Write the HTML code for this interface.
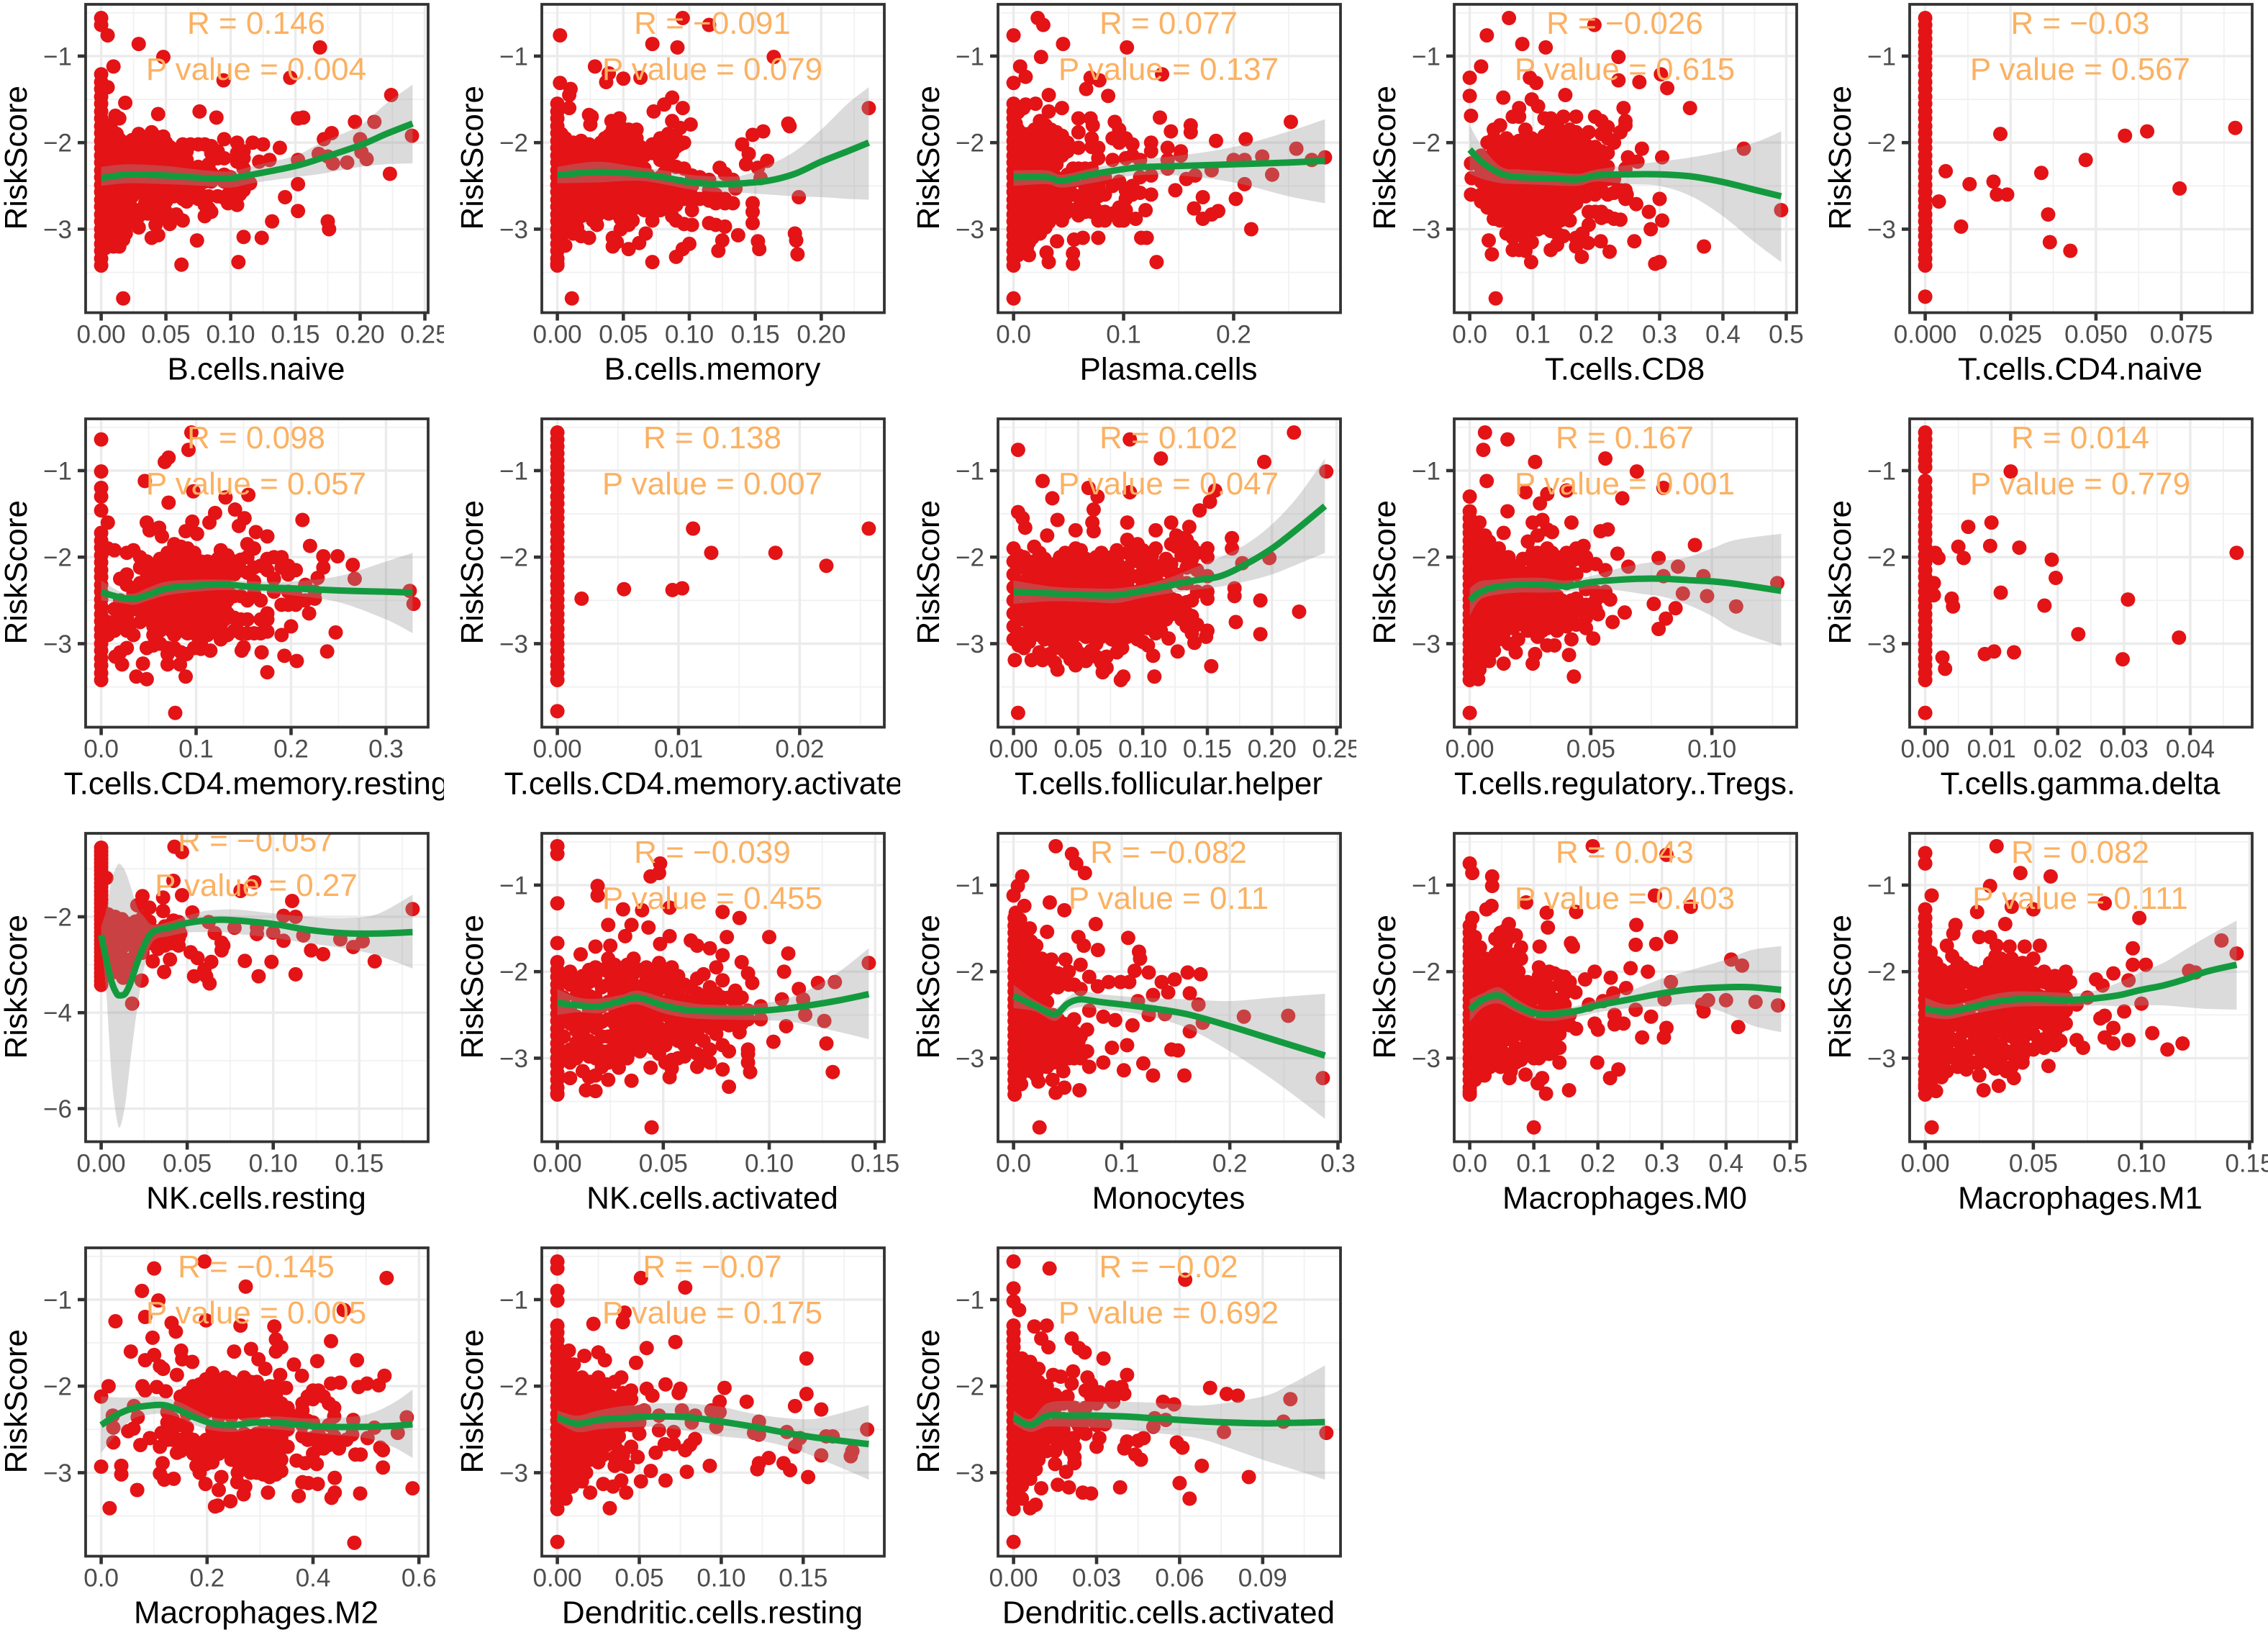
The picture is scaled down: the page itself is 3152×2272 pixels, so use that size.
<!DOCTYPE html>
<html lang="en">
<head>
<meta charset="utf-8">
<title>RiskScore vs immune cell fractions</title>
<style>
html,body{margin:0;padding:0;background:#fff;}
#figure{display:block;width:3152px;height:2272px;background:#fff;font-family:"Liberation Sans",Arial,sans-serif;}
</style>
</head>
<body>
<svg id="figure" xmlns="http://www.w3.org/2000/svg" width="3152" height="2272" viewBox="0 0 3152 2272"></svg>
<script>
const panelTitles=["B.cells.naive","B.cells.memory","Plasma.cells","T.cells.CD8","T.cells.CD4.naive","T.cells.CD4.memory.resting","T.cells.CD4.memory.activated","T.cells.follicular.helper","T.cells.regulatory..Tregs.","T.cells.gamma.delta","NK.cells.resting","NK.cells.activated","Monocytes","Macrophages.M0","Macrophages.M1","Macrophages.M2","Dendritic.cells.resting","Dendritic.cells.activated"];
const rLabels=["0.146","\u22120.091","0.077","\u22120.026","\u22120.03","0.098","0.138","0.102","0.167","0.014","\u22120.057","\u22120.039","\u22120.082","0.043","0.082","\u22120.145","\u22120.07","\u22120.02"];
const pLabels=["0.004","0.079","0.137","0.615","0.567","0.057","0.007","0.047","0.001","0.779","0.27","0.455","0.11","0.403","0.111","0.005","0.175","0.692"];
const xDomainMax=[0.2405,0.236,0.283,0.492,0.0912,0.328,0.0257,0.241,0.1286,0.047,0.181,0.147,0.288,0.486,0.144,0.588,0.19,0.1125];
const xTickLabels=[
["0.00","0.05","0.10","0.15","0.20","0.25"],["0.00","0.05","0.10","0.15","0.20"],["0.0","0.1","0.2"],["0.0","0.1","0.2","0.3","0.4","0.5"],["0.000","0.025","0.050","0.075"],
["0.0","0.1","0.2","0.3"],["0.00","0.01","0.02"],["0.00","0.05","0.10","0.15","0.20","0.25"],["0.00","0.05","0.10"],["0.00","0.01","0.02","0.03","0.04"],
["0.00","0.05","0.10","0.15"],["0.00","0.05","0.10","0.15"],["0.0","0.1","0.2","0.3"],["0.0","0.1","0.2","0.3","0.4","0.5"],["0.00","0.05","0.10","0.15"],
["0.0","0.2","0.4","0.6"],["0.00","0.05","0.10","0.15"],["0.00","0.03","0.06","0.09"]];
const yTicksStandard=[-1,-2,-3];
const yTicksNK=[-2,-4,-6];
const yDomainStandard=[-0.4017,-3.965];
const yDomainNK=[-0.26,-6.69];

const zeroScoresTop=[-.56,-.64,-.72,-.8,-.88,-.96,-1.04];
const zeroScoresCore=[-1.12,-1.21,-1.3,-1.38,-1.47,-1.55,-1.64,-1.72,-1.81,-1.89,-1.98,-2.06,-2.15,-2.23,-2.32,-2.4,-2.49,-2.57,-2.66,-2.74,-2.83,-2.91,-3,-3.08,-3.17,-3.25,-3.34,-3.42];

/* outliers: flat x,y pairs; cloud: [x,[scores]] columns; smooth: [x,fit,lower,upper] */
const outliers1=[0,-.56,0,-.64,.005,-.76,.029,-.86,.048,-1.01,.0095,-1.12,.0945,-1.28,.146,-1.25,.169,-.9,.224,-1.45,.0186,-1.54,.044,-1.67,.076,-1.64,.089,-1.71,.152,-1.72,.156,-1.71,.011,-1.69,.014,-1.72,.196,-1.76,.211,-1.76,.24,-1.92,.178,-1.89,.172,-1.96,.2,-1.96,.168,-2.13,.175,-2.16,.179,-2.24,.19,-2.23,.201,-2.11,.205,-2.19,.223,-2.36,.152,-2.2,.152,-2.48,.142,-2.63,.152,-2.79,.175,-2.91,.176,-3,.132,-2.91,.124,-3.1,.11,-3.09,.106,-3.38,.062,-3.41,.074,-3.13,.017,-3.8,.138,-2.06,.13,-2.2,.122,-2.22,.125,-2.02,.117,-2,.115,-2.47];
const cloud1=[[0,zeroScoresCore.slice(1)],[.005,[-1.36,-1.8,-1.95,-2.1,-2.25,-2.4,-2.55,-2.7,-2.85,-3,-3.15]],[.0095,[-2,-2.13,-2.28,-2.42,-2.56,-2.7,-2.84,-3.02,-3.2]],[.014,[-1.96,-2.2,-2.35,-2.5,-2.64,-2.78,-3.1,-3.2]],[.019,[-2,-2.14,-2.5,-2.62,-2.72,-2.95,-3.05]],[.024,[-1.97,-2.1,-2.3,-2.48,-2.62,-2.82]],[.029,[-1.9,-2.03,-2.18,-2.32,-2.5,-2.85,-2.98]],[.034,[-2,-2.17,-2.45,-2.6,-2.7]],[.039,[-1.88,-1.98,-2.12,-2.25,-2.38,-2.5,-2.65,-2.78,-3.1]],[.044,[-2.1,-2.22,-2.36,-2.48,-2.66,-2.88,-3.07]],[.048,[-1.93,-2.08,-2.2,-2.34,-2.45,-2.6,-2.75]],[.053,[-2.05,-2.15,-2.3,-2.4,-2.57,-2.85,-2.94]],[.058,[-2.1,-2.2,-2.3,-2.45,-2.83]],[.063,[-2.02,-2.14,-2.25,-2.38,-2.55,-2.65,-2.9]],[.069,[-2.02,-2.3,-2.45,-2.6]],[.075,[-2.02,-2.28,-2.42,-2.55,-2.65]],[.08,[-2.02,-2.3,-2.45,-2.72,-2.85]],[.085,[-2.04,-2.12,-2.35,-2.45,-2.8]],[.09,[-2.1,-2.18,-2.4,-2.62]],[.095,[-1.96,-2.18,-2.37,-2.45,-2.64]],[.1,[-2.4,-2.5,-2.65]],[.105,[-2,-2.12,-2.22,-2.55,-2.72]],[.11,[-2.1,-2.18,-2.3,-2.55]]];
const extra1=[[.003,[-1.9,-2.03,-2.18,-2.33,-2.48,-2.63,-2.78,-2.93,-3.08,-3.22]],[.008,[-1.85,-2.06,-2.2,-2.35,-2.5,-2.63,-2.77,-2.92,-3.1]],[.012,[-1.9,-2.06,-2.25,-2.45,-2.6,-2.74,-2.9]],[.017,[-2.07,-2.25,-2.4,-2.56,-2.7,-2.85,-3.12]],[.022,[-2.05,-2.22,-2.4,-2.55,-2.68,-2.9]],[.027,[-1.95,-2.1,-2.25,-2.42,-2.58,-2.78]],[.036,[-2.08,-2.3,-2.52,-2.68,-2.82]],[.042,[-1.93,-2.05,-2.18,-2.3,-2.44,-2.58,-2.72,-2.95]],[.05,[-2,-2.14,-2.27,-2.4,-2.52,-2.68,-2.8]],[.056,[-2.08,-2.22,-2.36,-2.5,-2.62]],[.066,[-2.1,-2.2,-2.35,-2.52,-2.68]],[.083,[-2.25,-2.38,-2.62,-2.76]],[.098,[-2.45,-2.6,-2.7]],[.107,[-2.48,-2.6]]];
const smooth1=[[0,-2.41,-2.5,-2.28],[.02,-2.37,-2.47,-2.25],[.05,-2.38,-2.48,-2.27],[.08,-2.41,-2.5,-2.32],[.1,-2.41,-2.52,-2.33],[.12,-2.36,-2.46,-2.26],[.15,-2.27,-2.4,-2.15],[.17,-2.18,-2.36,-2],[.2,-2.03,-2.28,-1.8],[.22,-1.9,-2.25,-1.55],[.2405,-1.78,-2.24,-1.33]];

const outliers2=[.095,-.56,.115,-.64,.002,-.76,.072,-.86,.091,-.9,.164,-1.01,.0285,-1.12,.039,-1.2,.037,-1.3,.05,-1.26,.063,-1.25,.002,-1.31,.01,-1.38,.009,-1.45,.009,-1.6,.087,-1.48,.081,-1.56,.095,-1.6,.073,-1.64,.024,-1.68,.026,-1.7,.025,-1.79,.041,-1.75,.047,-1.72,.087,-1.75,.093,-1.83,.101,-1.79,.175,-1.78,.176,-1.81,.156,-1.87,.148,-1.91,.14,-2.02,.145,-2.13,.143,-2.25,.159,-2.21,.152,-2.29,.154,-2.41,.236,-1.6,.183,-2.63,.123,-2.29,.127,-2.36,.133,-2.43,.135,-2.53,.148,-2.7,.148,-2.8,.148,-2.93,.137,-3.07,.152,-3.14,.153,-3.23,.18,-3.05,.181,-3.13,.182,-3.29,.125,-3.13,.122,-3.25,.1,-3.17,.095,-3.23,.09,-3.32,.072,-3.38,.054,-3.23,.062,-3.16,.067,-3.05,.011,-3.8,0,-3.4,.006,-3.19];
const cloud2=[[0,zeroScoresCore.slice(5)],[.006,[-1.95,-2.1,-2.25,-2.4,-2.55,-2.7,-2.85,-3]],[.012,[-2,-2.15,-2.4,-2.55,-2.7,-2.9,-3.05]],[.018,[-1.98,-2.12,-2.28,-2.45,-2.6,-2.72,-2.85,-3.08]],[.024,[-2.02,-2.18,-2.35,-2.5,-2.65,-2.8,-3.1]],[.03,[-2.05,-2.2,-2.38,-2.52,-2.68,-2.85,-2.95]],[.036,[-1.95,-2.1,-2.25,-2.42,-2.58,-2.72]],[.042,[-1.85,-2,-2.15,-2.3,-2.45,-2.6,-2.75,-3.1,-3.2]],[.048,[-1.82,-1.95,-2.1,-2.25,-2.4,-2.55,-2.7,-2.88,-3]],[.054,[-1.85,-2,-2.18,-2.35,-2.5,-2.65,-2.85,-2.95]],[.06,[-1.85,-1.95,-2.12,-2.3,-2.45,-2.6,-2.75]],[.066,[-2.15,-2.3,-2.45,-2.6,-2.78]],[.072,[-2.02,-2.12,-2.45,-2.6,-2.8,-2.9]],[.078,[-1.95,-2.1,-2.2,-2.4,-2.55,-2.7,-2.78]],[.084,[-1.9,-2.05,-2.22,-2.45,-2.6,-2.75]],[.09,[-1.95,-2.05,-2.28,-2.6,-2.72,-2.9]],[.096,[-2,-2.3,-2.55,-2.65,-2.94]],[.102,[-2.38,-2.5,-2.62,-2.78,-2.95]],[.108,[-2.4,-2.65]],[.115,[-2.43,-2.55,-2.67,-2.93]],[.12,[-2.6,-2.7,-2.95]],[.127,[-2.65,-2.7,-2.97]],[.133,[-2.7]]];
const extra2=[[.003,[-1.9,-2.03,-2.18,-2.33,-2.48,-2.62,-2.78,-2.93,-3.08]],[.009,[-2.08,-2.33,-2.47,-2.62,-2.78,-2.96]],[.015,[-2.06,-2.2,-2.34,-2.5,-2.66,-2.8,-2.98]],[.021,[-2.05,-2.2,-2.4,-2.55,-2.68,-2.78]],[.027,[-2.12,-2.28,-2.45,-2.6,-2.75,-2.9]],[.033,[-2,-2.18,-2.32,-2.48,-2.62,-2.8]],[.039,[-1.92,-2.05,-2.2,-2.36,-2.52,-2.68,-2.82]],[.045,[-1.9,-2.06,-2.22,-2.36,-2.52,-2.66,-2.82,-3.15]],[.051,[-1.9,-2.05,-2.2,-2.32,-2.47,-2.62,-2.78,-2.92]],[.057,[-1.92,-2.08,-2.25,-2.42,-2.58,-2.72,-2.9]],[.063,[-2.05,-2.22,-2.38,-2.52,-2.68]],[.069,[-2.08,-2.38,-2.52,-2.7]],[.081,[-2.15,-2.35,-2.5,-2.65]],[.087,[-1.98,-2.12,-2.52,-2.68,-2.85]],[.093,[-2.02,-2.48,-2.62]]];
const smooth2=[[0,-2.375,-2.47,-2.28],[.03,-2.34,-2.46,-2.22],[.06,-2.36,-2.44,-2.28],[.08,-2.4,-2.48,-2.32],[.1,-2.455,-2.54,-2.37],[.12,-2.48,-2.57,-2.39],[.14,-2.47,-2.58,-2.38],[.16,-2.44,-2.6,-2.26],[.18,-2.36,-2.62,-2.1],[.2,-2.22,-2.63,-1.85],[.22,-2.1,-2.65,-1.55],[.236,-2,-2.66,-1.36]];

const outliers3=[.022,-.56,.027,-.64,0,-.76,.045,-.86,.103,-.9,.025,-1.01,.006,-1.12,.011,-1.24,0,-1.31,.135,-1.21,.07,-1.25,.078,-1.28,.066,-1.38,.086,-1.46,.032,-1.45,.032,-1.64,.044,-1.6,.011,-1.56,.02,-1.55,.133,-1.71,.07,-1.72,.072,-1.8,.092,-1.76,.143,-1.87,.161,-1.8,.161,-1.88,.184,-1.98,.211,-1.96,.252,-1.76,.257,-2.07,.226,-2.16,.21,-2.2,.271,-2.2,.283,-2.17,.235,-2.37,.2,-2.2,.18,-2.32,.165,-2.38,.157,-2.42,.147,-2.55,.172,-2.63,.21,-2.48,.202,-2.65,.164,-2.76,.172,-2.88,.18,-2.83,.186,-2.79,.216,-3,.13,-3.38,.121,-3.1,.116,-3.1,.077,-3.1,.063,-3.1,.055,-3.12,.054,-3.28,.054,-3.4,.032,-3.38,.03,-3.27,.0395,-3.14,0,-3.8,.12,-2.78,.111,-2.88,.1,-2.9];
const cloud3=[[0,zeroScoresCore.slice(5)],[.004,[-1.65,-1.85,-2,-2.15,-2.3,-2.45,-2.6,-2.75,-2.9,-3.05,-3.2,-3.3]],[.009,[-1.6,-1.9,-2.05,-2.2,-2.35,-2.5,-2.65,-2.8,-2.95,-3.1,-3.25]],[.014,[-1.9,-2.02,-2.16,-2.3,-2.45,-2.6,-2.72,-2.88,-3.02,-3.15,-3.3]],[.019,[-1.85,-2,-2.14,-2.28,-2.42,-2.58,-2.7,-2.86]],[.024,[-1.75,-1.95,-2.1,-2.25,-2.4,-2.55,-2.68,-2.78,-2.95,-3.05]],[.029,[-1.8,-1.92,-2.08,-2.22,-2.38,-2.52,-2.66,-2.85,-2.98]],[.034,[-1.85,-2,-2.15,-2.3,-2.45,-2.6,-2.75,-2.88]],[.039,[-1.88,-2,-2.12,-2.25,-2.5,-2.65,-2.82]],[.044,[-1.92,-2.05,-2.15,-2.5,-2.62,-2.78,-2.9]],[.049,[-2,-2.1,-2.37,-2.48,-2.6,-2.76]],[.054,[-2.3,-2.45,-2.6,-2.78]],[.059,[-1.72,-1.88,-2.06,-2.3,-2.62,-2.75,-2.84]],[.065,[-2.3,-2.5,-2.65,-2.8]],[.071,[-1.95,-2.05,-2.3,-2.5,-2.7,-2.8]],[.077,[-2.06,-2.18,-2.5,-2.62,-2.82,-2.9]],[.083,[-2.4,-2.6,-2.8,-2.9]],[.09,[-1.95,-2.2,-2.5,-2.82]],[.096,[-1.85,-2,-2.45,-2.75,-2.9]],[.102,[-1.95,-2.18,-2.55,-2.65,-2.78]],[.108,[-2.02,-2.15,-2.5,-2.6]],[.115,[-2.2,-2.4,-2.58]],[.125,[-2,-2.1,-2.38,-2.6]],[.14,[-2.06,-2.2,-2.3]],[.152,[-2.1,-2.15]]];
const extra3=[[.002,[-1.78,-1.92,-2.08,-2.22,-2.38,-2.52,-2.68,-2.82,-2.98,-3.12,-3.28]],[.007,[-1.98,-2.12,-2.28,-2.42,-2.58,-2.72,-2.88,-3.02,-3.18]],[.012,[-1.95,-2.1,-2.24,-2.38,-2.52,-2.66,-2.8,-2.96,-3.08,-3.22]],[.017,[-1.92,-2.08,-2.22,-2.36,-2.5,-2.64,-2.78,-2.94,-3.1]],[.022,[-1.88,-2.03,-2.18,-2.32,-2.48,-2.62,-2.74,-2.9,-3]],[.027,[-2,-2.15,-2.3,-2.45,-2.6,-2.72,-2.92]],[.032,[-1.88,-2.02,-2.18,-2.35,-2.5,-2.66,-2.8,-2.92]],[.037,[-2.06,-2.2,-2.38,-2.55,-2.7,-2.85]],[.042,[-2,-2.1,-2.55,-2.7,-2.84]],[.047,[-2.05,-2.42,-2.55,-2.68,-2.82]],[.068,[-2.4,-2.58,-2.75]],[.074,[-2.42,-2.6,-2.76]]];
const smooth3=[[0,-2.4,-2.5,-2.32],[.03,-2.4,-2.48,-2.32],[.044,-2.44,-2.52,-2.37],[.07,-2.37,-2.47,-2.3],[.11,-2.29,-2.38,-2.2],[.15,-2.27,-2.38,-2.15],[.2,-2.25,-2.46,-2.05],[.25,-2.23,-2.62,-1.87],[.283,-2.21,-2.7,-1.73]];

const outliers4=[.062,-.56,.197,-.64,.027,-.76,.083,-.86,.12,-.9,.235,-1.01,.018,-1.12,0,-1.25,.095,-1.25,.105,-1.31,.235,-1.28,.268,-1.3,.302,-1.21,.312,-1.37,0,-1.46,.053,-1.48,.151,-1.45,.002,-1.69,.243,-1.6,.348,-1.6,.433,-2.07,.272,-2.07,.304,-2.17,.25,-2.17,.265,-2.22,.492,-2.78,.3,-2.65,.283,-2.8,.304,-2.9,.286,-3,.37,-3.2,.26,-3.14,.3,-3.38,.293,-3.4,.221,-3.26,.207,-3.14,.177,-3.32,.097,-3.38,.035,-3.29,.03,-3.13,.041,-3.8,.263,-2.71,.248,-2.6,.002,-2.6,.002,-2.24,.003,-2.41,.187,-3.16];
const cloud4=[[.018,[-2.15,-2.3,-2.45,-2.6,-2.68]],[.028,[-2,-2.18,-2.32,-2.48,-2.62,-2.75]],[.038,[-1.85,-1.95,-2.1,-2.25,-2.4,-2.55,-2.7,-2.88]],[.048,[-1.8,-2.05,-2.2,-2.35,-2.5,-2.65,-2.8,-2.9]],[.058,[-1.95,-2.1,-2.25,-2.4,-2.55,-2.7,-2.85,-3.05]],[.068,[-1.7,-2,-2.15,-2.3,-2.45,-2.6,-2.75,-2.9,-3.1,-3.24]],[.078,[-1.6,-1.7,-1.98,-2.12,-2.28,-2.42,-2.58,-2.72,-2.88,-3.02,-3.24]],[.088,[-1.85,-2.05,-2.2,-2.35,-2.5,-2.65,-2.8,-2.95,-3.12,-3.25]],[.098,[-1.5,-1.95,-2.1,-2.25,-2.4,-2.55,-2.7,-2.85,-3,-3.15]],[.108,[-1.58,-2,-2.15,-2.3,-2.45,-2.6,-2.75,-2.9,-3]],[.118,[-1.72,-1.92,-2.08,-2.22,-2.38,-2.52,-2.68,-2.82,-2.98]],[.128,[-1.72,-1.85,-2,-2.15,-2.3,-2.45,-2.6,-2.75,-2.9,-3.02,-3.24]],[.138,[-1.8,-1.98,-2.12,-2.28,-2.42,-2.58,-2.72,-2.88,-3.05,-3.18]],[.148,[-1.7,-1.9,-2.05,-2.2,-2.35,-2.5,-2.65,-2.8,-3.08]],[.158,[-1.85,-2,-2.15,-2.3,-2.45,-2.6,-2.75,-2.9]],[.168,[-1.7,-1.88,-2.02,-2.18,-2.4,-2.55,-2.7,-3.2,-3.1]],[.178,[-2,-2.15,-2.35,-2.5,-2.62,-3.05]],[.188,[-1.88,-2.1,-2.4,-2.55,-2.8,-2.95]],[.198,[-1.7,-2.05,-2.18,-2.3,-2.45,-2.6,-2.8]],[.208,[-1.75,-1.9,-2.1,-2.25,-2.4,-2.55,-2.8,-2.87]],[.218,[-1.82,-1.95,-2.12,-2.28,-2.42,-2.6,-2.85]],[.228,[-2,-2.42,-2.58,-2.88]],[.238,[-1.88,-2.55,-2.89]],[.246,[-1.8,-1.75,-2.3,-2.55,-2.65]]];
const extra4=[[.043,[-2.02,-2.18,-2.32,-2.48,-2.62,-2.78]],[.063,[-2.02,-2.18,-2.32,-2.48,-2.62,-2.78,-2.92]],[.073,[-2.08,-2.22,-2.38,-2.52,-2.68,-2.82,-3]],[.083,[-2.05,-2.2,-2.35,-2.5,-2.65,-2.8,-2.95]],[.093,[-1.98,-2.12,-2.28,-2.42,-2.58,-2.72,-2.88,-3.05]],[.103,[-2.02,-2.18,-2.32,-2.48,-2.62,-2.78,-2.94]],[.113,[-2.08,-2.22,-2.38,-2.52,-2.68,-2.82]],[.123,[-1.98,-2.12,-2.28,-2.42,-2.58,-2.72,-2.88]],[.133,[-2.05,-2.2,-2.35,-2.5,-2.65,-2.8]],[.143,[-1.95,-2.12,-2.28,-2.42,-2.58,-2.72,-2.9]],[.153,[-2.05,-2.22,-2.38,-2.52,-2.68]],[.163,[-2.08,-2.25,-2.4,-2.55,-2.72]],[.173,[-2.1,-2.28,-2.45,-2.6]],[.183,[-2.02,-2.2,-2.3,-2.45,-2.62]],[.193,[-2.1,-2.25,-2.4,-2.55]],[.203,[-2.15,-2.3,-2.5]]];
const smooth4=[[0,-2.08,-2.36,-1.8],[.02,-2.23,-2.42,-2.05],[.05,-2.36,-2.47,-2.28],[.08,-2.4,-2.48,-2.31],[.12,-2.41,-2.49,-2.33],[.17,-2.426,-2.5,-2.36],[.2,-2.38,-2.45,-2.31],[.25,-2.366,-2.48,-2.26],[.3,-2.366,-2.5,-2.22],[.35,-2.39,-2.62,-2.17],[.4,-2.455,-2.85,-2.1],[.45,-2.545,-3.15,-2],[.492,-2.62,-3.38,-1.87]];

const outliers5=[.006,-2.33,.004,-2.68,.013,-2.48,.0105,-2.97,.02,-2.45,.021,-2.6,.024,-2.6,.022,-1.9,.034,-2.35,.036,-2.83,.0365,-3.15,.0425,-3.25,.047,-2.2,.0585,-1.92,.065,-1.87,.0745,-2.53,.0908,-1.83,0,-3.78];
const cloud5=[[0,zeroScoresTop],[0,zeroScoresCore]];

const outliers6=[0,-.64,.095,-.56,.092,-.76,.071,-.85,.067,-.9,0,-1.01,.046,-1.12,0,-1.2,0,-1.3,0,-1.46,.007,-1.6,.097,-1.24,.131,-1.31,.155,-1.28,.071,-1.37,.12,-1.49,.114,-1.6,.141,-1.45,.151,-1.55,.145,-1.64,.212,-1.57,.096,-1.59,.089,-1.7,.101,-1.73,.048,-1.6,.051,-1.69,.061,-1.66,.064,-1.76,.163,-1.71,.175,-1.76,.22,-1.87,.234,-1.99,.249,-1.99,.234,-2.12,.265,-2.09,.267,-2.25,.228,-2.24,.325,-2.39,.329,-2.54,.219,-2.65,.2,-2.8,.247,-2.87,.238,-3.09,.206,-3.2,.193,-3.14,.175,-3.33,.169,-3.1,.089,-3.38,.078,-3.8,.048,-3.41,.037,-3.38,.044,-3.23,.022,-3.24,.015,-3.15,.07,-3.24,.083,-3.24,.148,-3.08,.15,-3.04,.105,-3.06,.115,-3.08,.09,-3.12];
const cloud6=[[0,zeroScoresCore.slice(7)],[.007,[-1.9,-2.9,-2.75]],[.014,[-1.92,-2.6,-2.75,-2.85]],[.02,[-2.25,-2.5,-2.65,-2.8,-3.1]],[.027,[-1.95,-2.2,-2.32,-2.55,-2.7,-2.85,-3.05]],[.034,[-1.92,-2.42,-2.6,-2.9]],[.041,[-2,-2.12,-2.3,-2.48,-2.62,-2.75]],[.048,[-2.05,-2.18,-2.3,-2.55,-2.68,-3.05]],[.055,[-2.1,-2.25,-2.45,-2.6,-2.8,-2.9,-3.02]],[.062,[-2.02,-2.15,-2.35,-2.5,-2.65,-2.85,-3]],[.07,[-1.95,-2.05,-2.2,-2.35,-2.5,-2.65,-2.8,-3.05,-3.12]],[.077,[-1.85,-2,-2.15,-2.3,-2.45,-2.6,-2.75,-2.9,-3.05]],[.084,[-1.88,-2.02,-2.25,-2.4,-2.55,-2.7,-2.85,-3.1]],[.091,[-1.9,-2.1,-2.22,-2.38,-2.52,-2.68,-2.88]],[.098,[-1.95,-2.15,-2.3,-2.45,-2.6,-2.75,-2.88,-3.05]],[.105,[-2.05,-2.2,-2.4,-2.55,-2.7,-2.85,-3]],[.112,[-2.05,-2.12,-2.3,-2.45,-2.6,-2.75,-2.9]],[.119,[-2.1,-2.25,-2.4,-2.55,-2.7,-2.85]],[.126,[-1.92,-2.12,-2.3,-2.5,-2.65,-2.78,-2.95]],[.133,[-1.98,-2.15,-2.35,-2.5,-2.65,-2.9]],[.14,[-2.05,-2.2,-2.45,-2.7,-2.85]],[.147,[-2.03,-2.15,-2.45,-2.72,-2.88]],[.154,[-1.85,-2,-2.18,-2.5,-2.72,-2.88]],[.161,[-1.9,-2.12,-2.28,-2.42,-2.88]],[.168,[-2.1,-2.5,-2.72,-2.88]],[.175,[-2.02,-2.15,-2.65,-2.72,-2.86]],[.182,[-2,-2.25,-2.4]],[.19,[-2,-2.12,-2.55,-2.9]],[.197,[-2.1,-2.2,-2.4,-2.55]],[.205,[-2.15,-2.45,-2.55]],[.215,[-2.32,-2.5]],[.225,[-2.4,-2.48]]];
const extra6=[[.03,[-2.62,-2.78]],[.045,[-2.42,-2.56,-2.72]],[.058,[-2.18,-2.35,-2.52,-2.7]],[.066,[-2.08,-2.28,-2.42,-2.58,-2.72]],[.074,[-2.12,-2.28,-2.42,-2.58,-2.72,-2.85]],[.081,[-1.95,-2.08,-2.22,-2.38,-2.52,-2.66,-2.82]],[.088,[-1.95,-2.15,-2.3,-2.46,-2.6,-2.78]],[.095,[-2.02,-2.2,-2.36,-2.52,-2.66,-2.82]],[.102,[-2.1,-2.28,-2.48,-2.62,-2.78,-2.92]],[.109,[-2.12,-2.28,-2.48,-2.66,-2.8]],[.116,[-2.18,-2.36,-2.52,-2.66,-2.82]],[.123,[-2.02,-2.2,-2.42,-2.58,-2.72]],[.13,[-2.05,-2.25,-2.42,-2.58,-2.72]]];
const smooth6=[[0,-2.405,-2.5,-2.27],[.02,-2.465,-2.53,-2.4],[.035,-2.48,-2.55,-2.42],[.05,-2.435,-2.5,-2.35],[.07,-2.36,-2.44,-2.28],[.1,-2.33,-2.4,-2.26],[.13,-2.315,-2.38,-2.26],[.16,-2.345,-2.4,-2.28],[.2,-2.36,-2.44,-2.28],[.25,-2.385,-2.52,-2.22],[.3,-2.4,-2.72,-2.05],[.328,-2.41,-2.88,-1.95]];

const outliers7=[.002,-2.48,.0055,-2.37,.0095,-2.38,.0103,-2.36,.0112,-1.67,.0127,-1.95,.018,-1.95,.0222,-2.1,.0257,-1.67,0,-3.78];
const cloud7=[[0,zeroScoresTop],[0,zeroScoresCore]];

const outliers8=[.0035,-.76,.09,-.64,.114,-.86,.217,-.56,.194,-.9,.242,-1.01,.0225,-1.12,.058,-1.2,.09,-1.25,.03,-1.32,.065,-1.3,.156,-1.23,.152,-1.36,.144,-1.46,.062,-1.45,.0035,-1.48,.007,-1.55,.034,-1.57,.009,-1.66,.061,-1.6,.088,-1.6,.062,-1.7,.048,-1.69,.026,-1.75,.122,-1.6,.136,-1.65,.11,-1.69,.169,-1.78,.169,-1.9,.198,-2.01,.177,-2.07,.191,-2.5,.221,-2.63,.191,-2.89,.172,-2.75,.171,-2.45,.171,-2.36,.153,-3.26,.109,-3.38,.085,-3.38,.083,-3.42,.0035,-3.8,.149,-2.92,.14,-2.99,.127,-3.09,.12,-2.94,.108,-3.14,.034,-3.3,.069,-3.33,.001,-3.19,.014,-3.19,.0225,-3.19];
const cloud8=[[0,[-1.9,-2.05,-2.2,-2.35,-2.5,-2.65,-2.8,-2.95]],[.008,[-2,-2.12,-2.28,-2.42,-2.58,-2.72,-2.92,-3.05]],[.016,[-1.88,-2.05,-2.2,-2.35,-2.5,-2.66,-2.8]],[.024,[-2.02,-2.18,-2.32,-2.48,-2.62,-2.78,-2.95]],[.032,[-2.1,-2.25,-2.4,-2.55,-2.7,-2.85,-3,-3.22]],[.04,[-1.95,-2.08,-2.22,-2.38,-2.52,-2.68,-2.82,-2.98,-3.1]],[.048,[-1.9,-2,-2.15,-2.3,-2.45,-2.6,-2.75,-2.9,-3.05,-3.25]],[.056,[-2.02,-2.18,-2.32,-2.48,-2.62,-2.78,-2.92,-3.2]],[.064,[-2,-2.12,-2.25,-2.4,-2.55,-2.7,-2.85,-3,-3.15]],[.072,[-2.1,-2.28,-2.42,-2.58,-2.72,-2.88,-3.15,-3.28]],[.08,[-1.92,-2.05,-2.2,-2.35,-2.5,-2.65,-2.8,-2.98,-3.1]],[.088,[-1.8,-1.95,-2.15,-2.3,-2.48,-2.62,-2.78,-2.92]],[.096,[-1.85,-2,-2.22,-2.4,-2.55,-2.72,-2.88,-2.95]],[.104,[-2.02,-2.18,-2.32,-2.55,-2.68,-2.82,-3.02]],[.11,[-1.9,-2.1,-2.25,-2.6,-2.75,-2.88]],[.118,[-2.02,-2.15,-2.42,-2.58,-2.72]],[.126,[-1.75,-1.88,-2.2,-2.5,-2.62]],[.134,[-1.8,-1.92,-2.12,-2.3,-2.52,-2.65,-2.8]],[.142,[-1.95,-2.15,-2.4,-2.78]],[.15,[-1.9,-2,-2.22,-2.4,-2.48,-2.85]]];
const extra8=[[.004,[-1.98,-2.12,-2.28,-2.42,-2.58,-2.72,-2.88,-3.02]],[.012,[-2.06,-2.2,-2.35,-2.5,-2.65,-2.85,-2.98]],[.02,[-1.95,-2.12,-2.28,-2.42,-2.58,-2.74,-2.9,-3.1]],[.028,[-2.08,-2.22,-2.38,-2.55,-2.7,-2.85,-3.12]],[.036,[-2,-2.15,-2.32,-2.47,-2.62,-2.78,-2.92,-3.05]],[.044,[-2,-2.15,-2.3,-2.45,-2.6,-2.75,-2.92,-3.18]],[.052,[-1.92,-2.08,-2.24,-2.38,-2.54,-2.7,-2.85,-3.12]],[.06,[-2.08,-2.22,-2.38,-2.54,-2.7,-2.85,-3.08]],[.068,[-1.95,-2.18,-2.32,-2.47,-2.62,-2.78,-2.92,-3.22]],[.076,[-2,-2.15,-2.32,-2.5,-2.65,-2.8,-2.95]],[.084,[-2.12,-2.28,-2.42,-2.58,-2.72,-2.9,-3.05]],[.092,[-1.88,-2.05,-2.22,-2.4,-2.55,-2.7,-2.85]],[.1,[-1.92,-2.1,-2.3,-2.48,-2.62,-2.8,-2.98]],[.107,[-1.98,-2.25,-2.42,-2.62,-2.78]],[.114,[-2.15,-2.32,-2.5,-2.66,-2.85]],[.122,[-1.85,-2.08,-2.28,-2.48,-2.66]],[.13,[-1.78,-1.98,-2.3,-2.55,-2.72]],[.138,[-1.88,-2.02,-2.5,-2.68,-2.88]]];
const smooth8=[[0,-2.4,-2.54,-2.27],[.03,-2.42,-2.51,-2.34],[.06,-2.44,-2.52,-2.36],[.08,-2.44,-2.53,-2.36],[.1,-2.39,-2.47,-2.32],[.12,-2.33,-2.42,-2.24],[.14,-2.27,-2.38,-2.12],[.16,-2.22,-2.34,-2],[.18,-2.08,-2.28,-1.85],[.2,-1.9,-2.2,-1.62],[.22,-1.67,-2.08,-1.3],[.241,-1.41,-1.95,-.86]];

const outliers9=[.0063,-.56,.0156,-.64,.0056,-.76,.027,-.9,.056,-.86,.069,-1.01,.007,-1.12,.08,-1.2,.023,-1.25,.032,-1.27,.04,-1.23,.063,-1.32,.029,-1.38,0,-1.3,.0156,-1.47,.03,-1.57,.026,-1.6,.042,-1.6,.034,-1.71,.054,-1.7,.057,-1.68,.014,-1.72,.0063,-1.75,.093,-1.86,.047,-1.87,.061,-1.96,.078,-2.01,.086,-2.11,.0655,-2.11,.08,-2.22,.0965,-2.22,.127,-2.3,.088,-2.42,.098,-2.45,.11,-2.57,.076,-2.54,.085,-2.59,.081,-2.71,.078,-2.83,.064,-2.64,.059,-2.75,.051,-2.94,.053,-2.66,.058,-2.49,.041,-3.13,.043,-3.38,.035,-3.02,.042,-2.95,.026,-3.23,.027,-3.12,.014,-3.23,.019,-3.1,.0035,-3.41,0,-3.8,.005,-3.17];
const cloud9=[[0,zeroScoresCore.slice(4)],[.004,[-1.6,-1.85,-2,-2.15,-2.3,-2.45,-2.6,-2.75,-2.9,-3.05,-3.3]],[.008,[-1.82,-1.95,-2.1,-2.25,-2.4,-2.55,-2.7,-2.85,-3,-3.2]],[.012,[-1.9,-2.05,-2.2,-2.35,-2.5,-2.65,-2.8,-2.95]],[.016,[-2,-2.15,-2.3,-2.45,-2.6,-2.75,-3]],[.02,[-2.1,-2.25,-2.4,-2.55,-2.7,-2.95]],[.024,[-1.82,-2.02,-2.2,-2.35,-2.5,-2.7,-2.85]],[.028,[-1.75,-1.95,-2.1,-2.3,-2.42,-2.58,-2.72,-2.92]],[.032,[-1.68,-1.9,-2.05,-2.2,-2.38,-2.55,-2.68,-2.82,-3.02]],[.036,[-2,-2.15,-2.45,-2.6,-2.75,-2.85]],[.04,[-1.95,-2.12,-2.3,-2.55,-2.7,-2.8]],[.044,[-1.9,-2.02,-2.2,-2.48,-2.62,-2.78]],[.048,[-2,-2.1,-2.37,-2.55,-2.7,-2.82]],[.052,[-2.08,-2.4,-2.5,-2.6]],[.056,[-2.15,-2.4,-2.45]]];
const extra9=[[.002,[-1.72,-1.92,-2.08,-2.22,-2.38,-2.52,-2.68,-2.82,-2.98,-3.12,-3.24]],[.006,[-1.92,-2.05,-2.2,-2.36,-2.5,-2.64,-2.8,-2.96,-3.1]],[.01,[-1.98,-2.12,-2.28,-2.44,-2.6,-2.76,-2.9,-3.08]],[.014,[-2.06,-2.22,-2.38,-2.54,-2.7,-2.88]],[.018,[-2.1,-2.22,-2.36,-2.5,-2.66,-2.82]],[.022,[-2.02,-2.18,-2.32,-2.46,-2.62,-2.78]],[.026,[-1.95,-2.15,-2.28,-2.44,-2.6,-2.78]],[.03,[-2.02,-2.18,-2.34,-2.5,-2.64,-2.85]],[.034,[-1.95,-2.1,-2.3,-2.48,-2.62,-2.78]],[.038,[-2.08,-2.25,-2.5,-2.66]],[.042,[-2.05,-2.2,-2.5,-2.64]]];
const smooth9=[[0,-2.5,-2.68,-2.36],[.004,-2.41,-2.5,-2.28],[.01,-2.35,-2.44,-2.26],[.02,-2.32,-2.41,-2.24],[.03,-2.32,-2.41,-2.24],[.04,-2.335,-2.4,-2.27],[.05,-2.29,-2.37,-2.22],[.06,-2.265,-2.38,-2.14],[.07,-2.25,-2.42,-2.08],[.08,-2.25,-2.46,-2.04],[.09,-2.265,-2.55,-2],[.1,-2.28,-2.68,-1.9],[.11,-2.31,-2.85,-1.8],[.1286,-2.39,-3.03,-1.73]];

const outliers10=[.0015,-1.95,.002,-2.01,.0013,-2.3,.0013,-2.44,.0026,-3.16,.003,-3.29,.004,-2.48,.0042,-2.57,.005,-1.88,.0058,-2.01,.0065,-1.65,.009,-3.12,.0104,-3.09,.0098,-1.87,.01,-1.6,.0114,-2.41,.0129,-1.01,.0134,-3.1,.0142,-1.89,.018,-2.56,.0191,-2.03,.0197,-2.24,.0231,-2.89,.0298,-3.18,.0306,-2.49,.0383,-2.93,.047,-1.95,0,-3.8];
const cloud10=[[0,zeroScoresTop.slice(0,6)],[0,zeroScoresCore]];

const outliers11=[.0426,-.54,.047,-.65,.042,-1.25,.089,-1.28,.081,-1.46,.047,-1.55,.036,-1.6,.024,-1.57,.028,-1.81,.036,-1.88,.021,-1.76,.111,-1.67,.053,-1.91,.181,-1.84,.106,-1.98,.113,-2,.003,-1.19,.0775,-2.23,.0906,-2.22,.0905,-2.36,.1,-2.33,.106,-2.5,.1175,-2.39,.139,-2.47,.1465,-2.63,.152,-2.51,.122,-2.7,.129,-2.78,.159,-2.93,.0835,-2.92,.099,-2.94,.0915,-3.24,.113,-3.2,.0625,-2.11,.066,-2.34,.07,-2.54,.071,-2.6,.07,-2.7,.052,-2.74,.056,-2.86,.064,-2.94,.06,-3.1,.054,-3.24,.061,-3.24,.063,-3.39,.0366,-3.15,.04,-2.89,.03,-2.93,.018,-3.81,.0235,-3.33,.0128,-3.27,.033,-2.67,.042,-2.08,.045,-2.11,.046,-2.35];
const cloud11=[[0,zeroScoresTop],[0,zeroScoresCore],[.004,[-1.95,-2.15,-2.35,-2.55,-2.75,-2.95]],[.008,[-2,-2.2,-2.4,-2.6,-2.8,-3,-3.15]],[.012,[-2.05,-2.25,-2.45,-2.65,-2.9,-3.1]],[.016,[-2.15,-2.35,-2.55,-2.9,-3.05]],[.02,[-2.1,-2.3,-2.5,-2.7]],[.024,[-2.02,-2.2,-2.4,-2.6,-2.75]],[.028,[-2.1,-2.35,-2.55]],[.033,[-2.3,-2.45,-2.55]],[.037,[-2.2,-2.35,-2.5,-2.6]],[.041,[-2.15,-2.3,-2.45,-2.55]],[.045,[-2.25,-2.45,-2.6]]];
const smooth11=[[0,-2.38,-2.55,-2.2],[.003,-2.9,-3.6,-1.85],[.006,-3.35,-5.3,-1.25],[.009,-3.6,-6.2,-.95],[.011,-3.64,-6.38,-.9],[.014,-3.6,-5.9,-1.05],[.017,-3.38,-5,-1.35],[.021,-2.95,-3.9,-1.8],[.025,-2.6,-3.05,-2],[.03,-2.32,-2.52,-2.17],[.04,-2.22,-2.4,-2.1],[.05,-2.13,-2.33,-1.98],[.06,-2.08,-2.32,-1.88],[.07,-2.06,-2.32,-1.85],[.08,-2.08,-2.36,-1.85],[.1,-2.15,-2.44,-1.93],[.12,-2.27,-2.55,-2],[.14,-2.34,-2.65,-2.03],[.16,-2.35,-2.8,-1.95],[.181,-2.32,-3.08,-1.54]];

const outliers12=[0,-.55,0,-.64,.0485,-.75,.048,-.86,.044,-.9,.019,-1.01,.019,-1.12,0,-1.21,.031,-1.28,.04,-1.29,.053,-1.26,.078,-1.31,.086,-1.38,.024,-1.46,.035,-1.46,.043,-1.49,.032,-1.59,.053,-1.59,0,-1.67,.018,-1.71,.025,-1.7,.0485,-1.68,.063,-1.64,.066,-1.7,.072,-1.73,.08,-1.6,.1,-1.6,.109,-1.79,.011,-1.8,.078,-1.81,.087,-1.89,.107,-2,.147,-1.9,.09,-2.02,.092,-2.13,.069,-2.03,.123,-2.13,.131,-2.12,.114,-2.2,.116,-2.32,.106,-2.32,.117,-2.5,.126,-2.57,.108,-2.63,.102,-2.81,.127,-2.83,.13,-3.16,.081,-3.33,.0445,-3.8,.091,-3.16,0,-3.41,.0135,-3.37,.018,-3.38,.035,-3.26,.024,-3.25,.006,-3.23,.053,-3.22,.044,-3.11,.029,-3.11,.078,-3.13,.086,-2.7,.09,-2.9];
const cloud12=[[0,zeroScoresCore.slice(9)],[.006,[-2,-2.15,-2.45,-2.6,-2.9,-3.05]],[.012,[-2.05,-2.2,-2.35,-2.55,-2.7,-2.9,-3.15]],[.018,[-1.95,-2.1,-2.3,-2.5,-2.65,-2.85,-3,-3.2]],[.024,[-1.85,-2,-2.15,-2.35,-2.55,-2.75,-2.92,-3.05]],[.03,[-2,-2.18,-2.32,-2.48,-2.62,-2.78,-2.95]],[.036,[-1.85,-2.02,-2.15,-2.3,-2.45,-2.6,-2.75,-2.9]],[.042,[-1.95,-2.1,-2.25,-2.4,-2.55,-2.7,-2.85]],[.048,[-1.9,-2.05,-2.2,-2.35,-2.5,-2.65,-2.78,-2.95]],[.054,[-1.95,-2.12,-2.28,-2.45,-2.6,-2.75,-3.02,-3.12]],[.06,[-2.15,-2.32,-2.55,-2.7,-2.85,-2.98]],[.066,[-2.08,-2.25,-2.4,-2.55,-2.7,-2.95,-3.1]],[.072,[-2.18,-2.35,-2.5,-2.65,-2.9,-3.05]],[.078,[-2.1,-2.3,-2.45,-2.6,-2.85]],[.084,[-2.22,-2.4,-2.55]],[.09,[-2.45,-2.55,-2.95,-3.05]],[.096,[-2.4,-2.55]]];
const extra12=[[.003,[-2.08,-2.3,-2.52,-2.75,-2.98]],[.009,[-2.08,-2.28,-2.52,-2.68,-2.82,-3]],[.015,[-1.98,-2.12,-2.28,-2.44,-2.62,-2.8,-2.98,-3.22]],[.021,[-1.98,-2.18,-2.4,-2.58,-2.75,-2.92,-3.1]],[.027,[-1.92,-2.08,-2.25,-2.42,-2.6,-2.72,-2.85,-3]],[.033,[-1.92,-2.1,-2.25,-2.4,-2.55,-2.7,-2.85,-3]],[.039,[-1.98,-2.18,-2.32,-2.48,-2.62,-2.78,-2.92]],[.045,[-2,-2.15,-2.3,-2.45,-2.6,-2.72,-2.88]],[.051,[-2.02,-2.18,-2.35,-2.5,-2.68,-2.85,-3.05]],[.057,[-2.05,-2.22,-2.38,-2.52,-2.68,-2.8,-3]],[.063,[-2.18,-2.35,-2.48,-2.62,-2.78,-2.92]],[.069,[-2.3,-2.48,-2.62,-2.8,-3]],[.075,[-1.95,-2.25,-2.42,-2.58,-2.72]],[.081,[-2.3,-2.48,-2.62,-2.92]],[.087,[-2.3,-2.5,-2.6]]];
const smooth12=[[0,-2.36,-2.5,-2.2],[.01,-2.39,-2.47,-2.3],[.02,-2.4,-2.48,-2.31],[.03,-2.34,-2.41,-2.27],[.038,-2.3,-2.38,-2.22],[.05,-2.39,-2.48,-2.3],[.06,-2.44,-2.53,-2.35],[.07,-2.455,-2.55,-2.38],[.09,-2.46,-2.56,-2.38],[.11,-2.42,-2.58,-2.3],[.13,-2.345,-2.68,-2.05],[.147,-2.26,-2.78,-1.73]];

const outliers13=[.039,-.55,.054,-.64,.058,-.75,.066,-.86,.008,-.9,.004,-1.01,0,-1.12,.0335,-1.2,.01,-1.24,.047,-1.29,.002,-1.32,.076,-1.45,.031,-1.54,.015,-1.5,.106,-1.61,.06,-1.6,.065,-1.7,.078,-1.75,.116,-1.77,.117,-1.85,.035,-1.86,.048,-1.86,.062,-1.92,.161,-2.01,.173,-2.03,.112,-1.99,.125,-2.01,.149,-2.09,.137,-2.12,.129,-2.27,.143,-2.24,.163,-2.25,.171,-2.38,.175,-2.59,.163,-2.69,.213,-2.52,.254,-2.51,.286,-3.23,.158,-3.2,.152,-2.91,.146,-2.9,.129,-3.2,.12,-3.06,.102,-3.14,.105,-2.85,.091,-2.88,.083,-3.05,.07,-3.1,.061,-3.37,.039,-3.4,.024,-3.8,.047,-3.34,.007,-3.3,.023,-3.27,.094,-2.56,.083,-2.52,.11,-2.62,.125,-2.5,.14,-2.49,.088,-2.12,.099,-2.12,.107,-2.12,.07,-2.06,.078,-2.17,.115,-2.34,.07,-2.45,.068,-2.67,.06,-2.81,.068,-2.92];
const cloud13=[[.001,zeroScoresCore.slice(3)],[.006,[-1.4,-1.6,-1.75,-1.9,-2.05,-2.2,-2.35,-2.5,-2.65,-2.8,-2.95,-3.1,-3.2]],[.011,[-1.55,-1.7,-1.85,-2,-2.15,-2.3,-2.45,-2.6,-2.75,-2.9,-3.05]],[.016,[-1.65,-1.8,-1.95,-2.1,-2.25,-2.4,-2.55,-2.7,-2.85,-3,-3.15]],[.021,[-1.7,-1.85,-2,-2.15,-2.3,-2.45,-2.6,-2.75,-2.9,-3.05,-3.2]],[.026,[-1.85,-2,-2.15,-2.3,-2.45,-2.6,-2.75,-2.9,-3.1]],[.031,[-1.9,-2.05,-2.2,-2.35,-2.5,-2.65,-2.8,-2.95,-3.1]],[.036,[-2,-2.15,-2.5,-2.65,-2.8,-2.95,-3.05,-3.25]],[.041,[-2.02,-2.18,-2.55,-2.7,-2.88,-3.05]],[.046,[-2.1,-2.6,-2.75,-2.9,-3.15]],[.051,[-2,-2.15,-2.62,-2.8,-3]],[.056,[-2.15,-2.55,-2.7,-2.9,-3]],[.062,[-2.2,-2.75,-3]]];
const smooth13=[[0,-2.28,-2.42,-2.15],[.02,-2.395,-2.46,-2.33],[.038,-2.49,-2.57,-2.42],[.05,-2.37,-2.45,-2.3],[.062,-2.32,-2.41,-2.22],[.08,-2.35,-2.43,-2.26],[.12,-2.41,-2.5,-2.3],[.16,-2.49,-2.65,-2.32],[.2,-2.63,-2.92,-2.34],[.24,-2.785,-3.25,-2.3],[.288,-2.97,-3.7,-2.255]];

const outliers14=[.192,-.55,.307,-.65,0,-.75,.004,-.86,.035,-.9,.035,-1.01,.034,-1.24,.026,-1.28,.004,-1.38,.088,-1.2,.12,-1.32,.166,-1.31,.289,-1.12,.345,-1.25,.122,-1.49,.061,-1.45,.26,-1.46,.314,-1.6,.259,-1.69,.291,-1.68,.158,-1.67,.161,-1.71,.109,-1.71,.408,-1.86,.425,-1.93,.251,-1.96,.278,-2,.195,-2,.22,-2.07,.18,-2.09,.314,-2.12,.165,-2.24,.244,-2.19,.224,-2.25,.304,-2.32,.372,-2.33,.4,-2.33,.446,-2.35,.481,-2.39,.363,-2.38,.365,-2.46,.419,-2.64,.259,-2.44,.283,-2.52,.307,-2.65,.303,-2.76,.269,-2.76,.24,-2.6,.226,-2.61,.2,-2.67,.195,-2.6,.166,-2.66,.199,-3.05,.232,-3.13,.219,-3.23,.155,-3.37,.119,-3.41,.113,-3.23,.106,-3.29,.1,-3.8,.14,-3.05,.087,-3.19,.062,-3.23,0,-3.39,.023,-3.2,.208,-2.34,.186,-2.38,.226,-2.5];
const cloud14=[[0,zeroScoresCore.slice(4)],[.008,[-1.6,-1.75,-1.9,-2.05,-2.2,-2.35,-2.5,-2.65,-2.8,-2.95,-3.1,-3.25]],[.016,[-1.72,-1.85,-2,-2.15,-2.3,-2.45,-2.6,-2.75,-2.9,-3.05,-3.18]],[.024,[-1.85,-2,-2.15,-2.3,-2.45,-2.6,-2.75,-2.9,-3.05]],[.032,[-1.95,-2.05,-2.2,-2.35,-2.5,-2.65,-2.8,-2.95,-3.1]],[.04,[-1.62,-1.8,-2,-2.15,-2.3,-2.45,-2.6,-2.75,-2.85,-3]],[.048,[-1.55,-1.72,-1.9,-2.05,-2.2,-2.35,-2.5,-2.65,-2.85,-3.1]],[.056,[-1.52,-1.68,-1.95,-2.1,-2.25,-2.4,-2.55,-2.72,-2.95,-3.05]],[.064,[-1.6,-1.8,-2,-2.15,-2.3,-2.45,-2.6,-2.75,-3.15]],[.072,[-1.58,-1.9,-2.05,-2.2,-2.35,-2.5,-2.65,-2.88,-3.05]],[.08,[-1.72,-1.85,-2.25,-2.45,-2.6,-2.9,-3.02]],[.09,[-2.12,-2.3,-2.5,-2.65,-2.82,-2.95]],[.1,[-2.3,-2.72,-2.85,-3]],[.108,[-1.95,-2.05,-2.18,-2.3,-2.6,-2.75,-2.88,-3]],[.116,[-2.08,-2.25,-2.42,-2.62,-2.78,-2.95]],[.124,[-2,-2.2,-2.4,-2.55,-2.68,-2.82,-2.95]],[.132,[-2.02,-2.32,-2.45,-2.65,-2.8,-2.9]],[.14,[-2.05,-2.15,-2.35,-2.55,-2.72,-2.88]],[.148,[-2.06,-2.25,-2.38,-2.6]],[.156,[-2.12,-2.5,-2.62]]];
const extra14=[[.012,[-1.8,-1.95,-2.1,-2.25,-2.4,-2.55,-2.7,-2.85,-3]],[.028,[-1.95,-2.1,-2.25,-2.4,-2.55,-2.7,-2.85,-3]],[.044,[-1.85,-2,-2.12,-2.28,-2.42,-2.58,-2.72,-2.92]],[.06,[-1.85,-2.02,-2.18,-2.32,-2.48,-2.62,-2.78]],[.076,[-2,-2.15,-2.28,-2.42,-2.58,-2.72,-2.95]],[.095,[-2.22,-2.42,-2.6,-2.75,-2.9]],[.12,[-2.15,-2.35,-2.5,-2.72,-2.88]]];
const smooth14=[[0,-2.44,-2.58,-2.32],[.02,-2.325,-2.42,-2.25],[.045,-2.275,-2.37,-2.18],[.07,-2.38,-2.46,-2.3],[.1,-2.48,-2.55,-2.42],[.13,-2.49,-2.57,-2.44],[.17,-2.45,-2.52,-2.39],[.2,-2.39,-2.47,-2.32],[.25,-2.32,-2.42,-2.22],[.3,-2.25,-2.4,-2.08],[.35,-2.2,-2.38,-1.97],[.4,-2.18,-2.48,-1.86],[.44,-2.18,-2.62,-1.75],[.486,-2.21,-2.7,-1.705]];

const outliers15=[0,-.63,0,-.75,.033,-.55,.044,-.86,.058,-.9,.03,-1.01,.003,-1.12,0,-1.28,.024,-1.31,.04,-1.25,.05,-1.28,.083,-1.21,.099,-1.38,.014,-1.46,.037,-1.45,.013,-1.56,.01,-1.7,.025,-1.6,.03,-1.6,.033,-1.7,.039,-1.71,.046,-1.71,.053,-1.7,.096,-1.73,.137,-1.64,.144,-1.79,.096,-1.92,.102,-1.92,.087,-2.02,.094,-2.1,.079,-2.09,.082,-2.16,.122,-1.99,.125,-2.01,.1,-2.37,.092,-2.46,.081,-2.54,.083,-2.51,.087,-2.65,.105,-2.71,.083,-2.76,.087,-2.83,.094,-2.79,.112,-2.9,.119,-2.83,.07,-2.79,.073,-2.88,.057,-3.09,.041,-3.23,.034,-3.32,.027,-3.37,.005,-3.38,.003,-3.8,.019,-3.13,0,-3.31,.07,-2.38,.075,-2.3,.067,-2.12,.065,-2];
const cloud15=[[0,zeroScoresCore.slice(3)],[.005,[-1.9,-2.05,-2.3,-2.45,-2.6,-2.75,-2.9,-3.05,-3.2]],[.01,[-2.1,-2.25,-2.4,-2.55,-2.7,-2.85,-3,-3.15]],[.015,[-1.9,-2.05,-2.2,-2.42,-2.6,-2.8,-2.95,-3.1]],[.02,[-2,-2.12,-2.3,-2.45,-2.65,-2.9]],[.025,[-2.05,-2.2,-2.35,-2.55,-2.7,-2.9,-3.05,-3.2]],[.03,[-1.9,-2.1,-2.25,-2.42,-2.6,-2.78,-2.95,-3.05]],[.035,[-1.85,-2,-2.15,-2.3,-2.5,-2.65,-2.85,-3]],[.04,[-1.85,-1.98,-2.15,-2.3,-2.45,-2.6,-2.75,-2.95,-3.1]],[.045,[-1.9,-2.05,-2.2,-2.35,-2.5,-2.65,-2.8,-2.98,-3.05]],[.05,[-1.85,-2.02,-2.2,-2.35,-2.5,-2.72,-2.9]],[.055,[-2,-2.12,-2.3,-2.45,-2.6,-2.78,-2.88]],[.06,[-2.05,-2.2,-2.4,-2.55,-2.7,-2.85]],[.065,[-2.15,-2.3,-2.45,-2.6]]];
const extra15=[[.0025,[-1.78,-1.98,-2.18,-2.38,-2.52,-2.68,-2.82,-2.98,-3.12,-3.28]],[.0075,[-1.98,-2.18,-2.32,-2.48,-2.62,-2.78,-2.92,-3.08,-3.22]],[.0125,[-1.82,-2,-2.18,-2.32,-2.48,-2.62,-2.78,-2.98]],[.0175,[-1.95,-2.12,-2.28,-2.52,-2.7,-2.85,-3.02]],[.0225,[-2.02,-2.2,-2.38,-2.55,-2.72,-2.82,-3.05]],[.0275,[-2,-2.15,-2.3,-2.48,-2.65,-2.82,-3]],[.0325,[-1.82,-2,-2.18,-2.35,-2.52,-2.7,-2.88,-3.12]],[.0375,[-1.92,-2.08,-2.22,-2.38,-2.58,-2.72,-2.92,-3.15]],[.0425,[-1.92,-2.08,-2.22,-2.38,-2.52,-2.68,-2.85,-3.02]],[.0475,[-1.98,-2.12,-2.28,-2.42,-2.58,-2.72,-2.9]],[.0525,[-2.1,-2.28,-2.42,-2.58,-2.82]],[.0575,[-2.15,-2.35,-2.5,-2.68,-2.82]],[.0625,[-2.12,-2.3,-2.48,-2.62,-2.8]]];
const smooth15=[[0,-2.43,-2.52,-2.3],[.01,-2.465,-2.55,-2.38],[.02,-2.42,-2.5,-2.34],[.03,-2.36,-2.45,-2.27],[.04,-2.325,-2.41,-2.23],[.05,-2.315,-2.4,-2.23],[.06,-2.325,-2.4,-2.24],[.07,-2.325,-2.4,-2.25],[.08,-2.305,-2.39,-2.21],[.09,-2.27,-2.4,-2.12],[.1,-2.21,-2.39,-2],[.11,-2.16,-2.39,-1.9],[.12,-2.09,-2.41,-1.75],[.13,-2,-2.43,-1.6],[.144,-1.92,-2.44,-1.41]];

const outliers16=[.195,-.56,.1,-.64,.273,-.85,.539,-.75,.077,-.9,.108,-1.01,.083,-1.2,.027,-1.25,.198,-1.24,.263,-1.3,.458,-1.12,.327,-1.31,.133,-1.27,.141,-1.37,.097,-1.44,.33,-1.46,.34,-1.55,.33,-1.6,.434,-1.48,.056,-1.6,.151,-1.59,.153,-1.69,.172,-1.72,.1,-1.64,.083,-1.7,.251,-1.6,.283,-1.57,.297,-1.69,.31,-1.8,.364,-1.75,.408,-1.71,.483,-1.7,.379,-1.88,.338,-1.87,.535,-1.88,.524,-1.99,.502,-1.97,.486,-2.01,.434,-1.97,.451,-1.96,.349,-2.02,.111,-1.77,.117,-1.8,.143,-1.87,.014,-2,0,-2.12,.078,-2,.083,-2.05,.105,-2.01,.122,-2.06,.062,-2.23,.022,-2.34,.069,-2.36,.023,-2.48,.051,-2.52,.061,-2.49,.023,-2.65,0,-2.93,.038,-2.92,.038,-3.02,.068,-3.2,.016,-3.41,.074,-2.68,.092,-2.6,.111,-2.7,.114,-2.54,.143,-2.77,.116,-2.89,.111,-3.01,.119,-3.08,.137,-3.07,.18,-2.92,.197,-3.13,.222,-3.2,.227,-3.05,.22,-3.38,.244,-3.33,.269,-3.25,.257,-3.11,.272,-3.16,.315,-3.23,.373,-3.27,.435,-3.29,.441,-3.23,.441,-3.06,.409,-3.13,.391,-3.12,.38,-3.11,.489,-3.24,.478,-3.81,.588,-3.18,.532,-2.94,.527,-2.71,.532,-2.74,.49,-2.79,.48,-2.79,.503,-2.6,.56,-2.54,.577,-2.36,.476,-2.39,.516,-2.48,.474,-2.56,.463,-2.62,.449,-2.72,.369,-2.86,.385,-2.89,.407,-2.9,.215,-3.39];
const cloud16=[[.125,[-2.3,-2.42,-2.55,-2.62]],[.135,[-2.38,-2.5,-2.62]],[.15,[-2.12,-2.22,-2.45,-2.62,-2.75]],[.162,[-2.08,-2.2,-2.32,-2.48,-2.58,-2.72]],[.174,[-2,-2.12,-2.25,-2.62,-2.78]],[.186,[-1.98,-2.08,-2.2,-2.3,-2.68,-2.82,-3]],[.198,[-1.92,-2.05,-2.15,-2.3,-2.62,-2.75,-2.9]],[.21,[-1.85,-2,-2.12,-2.25,-2.5,-2.62,-2.75,-2.88]],[.222,[-1.95,-2.1,-2.22,-2.35,-2.55,-2.68,-2.78]],[.234,[-1.9,-2.02,-2.18,-2.3,-2.5,-2.65,-2.75]],[.246,[-1.95,-2.08,-2.2,-2.35,-2.55,-2.7,-2.85]],[.258,[-2,-2.15,-2.28,-2.6,-2.78,-2.88,-3]],[.27,[-1.9,-2.05,-2.2,-2.32,-2.55,-2.68,-2.8,-2.95]],[.282,[-1.95,-2.1,-2.22,-2.35,-2.58,-2.72,-2.85,-3]],[.294,[-1.95,-2.08,-2.18,-2.3,-2.55,-2.68,-2.8,-2.9,-3]],[.306,[-2.05,-2.15,-2.28,-2.52,-2.65,-2.78,-2.9,-3.02]],[.318,[-2,-2.12,-2.28,-2.55,-2.68,-2.8,-2.92,-3.05]],[.33,[-2,-2.1,-2.22,-2.32,-2.5,-2.62,-2.78,-2.9,-3.02]],[.34,[-2.2,-2.45,-2.6,-2.72,-2.85,-2.98]],[.352,[-2.25,-2.38,-2.5,-2.7]],[.365,[-2.35]],[.38,[-2.2,-2.28,-2.45,-2.58]],[.39,[-2.12,-2.4,-2.62]],[.4,[-2.05,-2.15,-2.42,-2.6,-2.78]],[.41,[-2.05,-2.55,-2.72]],[.42,[-2.12,-2.62,-2.72]],[.43,[-2.2,-2.45,-2.68]],[.44,[-2.25,-2.35,-2.58]]];
const smooth16=[[0,-2.45,-2.77,-2.12],[.03,-2.33,-2.55,-2.13],[.06,-2.255,-2.38,-2.13],[.09,-2.225,-2.33,-2.12],[.12,-2.22,-2.32,-2.13],[.15,-2.285,-2.37,-2.19],[.18,-2.37,-2.46,-2.28],[.21,-2.43,-2.51,-2.36],[.25,-2.45,-2.53,-2.38],[.29,-2.42,-2.49,-2.36],[.33,-2.42,-2.5,-2.35],[.38,-2.45,-2.53,-2.37],[.43,-2.47,-2.56,-2.37],[.5,-2.47,-2.6,-2.33],[.55,-2.46,-2.7,-2.2],[.588,-2.44,-2.83,-2.04]];

const outliers17=[0,-.56,0,-.64,.051,-.75,.078,-.86,0,-.9,0,-1.01,.041,-1.15,.04,-1.26,.022,-1.28,.072,-1.49,.0545,-1.56,.007,-1.59,.0165,-1.65,.025,-1.61,.029,-1.7,.048,-1.73,.152,-1.68,.039,-1.9,.066,-1.98,.0545,-2.03,.058,-2.11,.075,-2.03,.074,-2.08,.102,-2.02,.099,-2.18,.1155,-2.18,.152,-2.09,.145,-2.23,.161,-2.27,.053,-2.28,.076,-2.28,.094,-2.28,.099,-2.3,.062,-2.34,.084,-2.34,.082,-2.42,.097,-2.47,.123,-2.41,.12,-2.54,.123,-2.56,.14,-2.53,.148,-2.6,.145,-2.7,.164,-2.58,.168,-2.58,.189,-2.5,.18,-2.75,.179,-2.81,.161,-2.8,.062,-2.51,.071,-2.53,.0655,-2.67,.071,-2.67,.084,-2.61,.081,-2.68,.078,-2.74,.06,-2.77,.049,-2.82,.129,-2.83,.123,-2.89,.122,-2.96,.138,-2.89,.142,-2.97,.153,-3.05,.093,-2.92,.079,-2.99,.057,-2.98,.051,-3.1,.066,-3.09,.039,-3.09,.034,-3.16,.028,-3.13,.042,-3.23,.02,-3.23,.032,-3.41,.043,-2.93,0,-3.8,.009,-3.16,.014,-3.05];
const cloud17=[[0,zeroScoresCore.slice(2)],[.005,[-1.72,-1.85,-2,-2.15,-2.3,-2.45,-2.6,-2.75,-2.9,-3.05,-3.2,-3.3]],[.01,[-1.75,-1.9,-2.05,-2.2,-2.35,-2.5,-2.65,-2.8,-2.95,-3.08]],[.015,[-1.9,-2.05,-2.2,-2.35,-2.5,-2.65,-2.8,-2.95,-3.1]],[.02,[-1.95,-2.08,-2.25,-2.4,-2.55,-2.7,-2.85]],[.025,[-1.9,-2,-2.15,-2.3,-2.45,-2.6,-2.75,-2.88]],[.03,[-1.98,-2.1,-2.25,-2.4,-2.55,-2.68]],[.035,[-1.95,-2.2,-2.35,-2.5,-2.65,-2.82,-2.92]],[.04,[-2.08,-2.2,-2.3,-2.45,-2.8,-2.9]],[.045,[-2.05,-2.15,-2.3,-2.45,-2.7]],[.05,[-2.3,-2.42,-2.55]]];
const extra17=[[.0075,[-1.95,-2.12,-2.28,-2.42,-2.58,-2.72,-2.88,-3.02]],[.0125,[-2,-2.15,-2.3,-2.45,-2.6,-2.75,-2.9]],[.0175,[-2,-2.15,-2.3,-2.45,-2.62,-2.78,-3]],[.0225,[-2.02,-2.18,-2.35,-2.5,-2.65,-2.8]],[.0275,[-2.05,-2.2,-2.38,-2.5,-2.62,-2.8]],[.0325,[-2.12,-2.3,-2.45,-2.6]],[.0375,[-2.28,-2.42,-2.58,-2.75]]];
const smooth17=[[0,-2.36,-2.42,-2.28],[.012,-2.435,-2.53,-2.34],[.025,-2.39,-2.5,-2.28],[.04,-2.37,-2.48,-2.23],[.06,-2.35,-2.47,-2.2],[.08,-2.36,-2.52,-2.2],[.1,-2.41,-2.58,-2.24],[.12,-2.47,-2.62,-2.32],[.14,-2.54,-2.7,-2.37],[.16,-2.6,-2.84,-2.37],[.19,-2.67,-3.08,-2.22]];

const outliers18=[0,-.56,.013,-.64,.062,-.77,0,-.87,0,-1.02,.002,-1.12,.0075,-1.31,.012,-1.3,.01,-1.45,.0126,-1.55,.021,-1.45,.0236,-1.56,.0257,-1.61,.0325,-1.68,.041,-1.87,.0143,-1.87,.017,-1.89,.0215,-1.83,.021,-1.97,.0267,-1.9,.028,-1.98,.0356,-2.01,.039,-2.01,.031,-2.07,.035,-2.09,.04,-2.09,.071,-2.02,.077,-2.09,.081,-2.11,.054,-2.18,.058,-2.21,.1,-2.15,.0195,-2.12,.028,-2.12,.033,-2.12,.0975,-2.41,.113,-2.54,.076,-2.53,.051,-2.37,.055,-2.39,.0505,-2.47,.033,-2.44,.0236,-2.46,.031,-2.6,.047,-2.6,.045,-2.63,.041,-2.64,.059,-2.65,.061,-2.71,.04,-2.72,.044,-2.79,.046,-2.85,.068,-2.92,.085,-3.05,.06,-3.12,.0636,-3.3,.0385,-3.17,.028,-3.24,.025,-3.23,.02,-3.17,.016,-3.14,.01,-3.18,.008,-3.37,.006,-3.41,0,-3.8,.019,-2.99,.022,-2.89,.015,-2.9,.0205,-2.74,.016,-2.68,.0215,-2.6,.0246,-2.51,.006,-3.07,.008,-2.96];
const cloud18=[[0,zeroScoresCore.slice(2)],[.003,[-1.68,-1.8,-1.95,-2.1,-2.25,-2.4,-2.55,-2.7,-2.85,-3,-3.15,-3.3]],[.006,[-1.72,-1.88,-2.02,-2.18,-2.32,-2.48,-2.62,-2.78,-2.92]],[.009,[-1.8,-1.95,-2.1,-2.25,-2.4,-2.55,-2.7,-2.85]],[.012,[-2,-2.15,-2.3,-2.45,-2.6,-2.75]],[.015,[-2.1,-2.25,-2.45,-2.58,-2.75]],[.018,[-2.2,-2.38,-2.5,-2.62]],[.022,[-2.25,-2.4,-2.7,-2.82]],[.026,[-2.05,-2.25,-2.4,-2.55]],[.03,[-2.2,-2.45,-2.7]],[.036,[-2.18]]];
const smooth18=[[0,-2.36,-2.44,-2.28],[.006,-2.45,-2.53,-2.38],[.012,-2.345,-2.47,-2.2],[.02,-2.34,-2.47,-2.17],[.03,-2.34,-2.48,-2.18],[.04,-2.35,-2.5,-2.18],[.05,-2.37,-2.54,-2.19],[.06,-2.39,-2.57,-2.21],[.07,-2.41,-2.63,-2.22],[.09,-2.43,-2.85,-2.12],[.1,-2.425,-2.95,-1.98],[.1125,-2.415,-3.08,-1.76]];

const panelOutliers=[outliers1,outliers2,outliers3,outliers4,outliers5,outliers6,outliers7,outliers8,outliers9,outliers10,outliers11,outliers12,outliers13,outliers14,outliers15,outliers16,outliers17,outliers18];
const panelClouds=[cloud1.concat(extra1),cloud2.concat(extra2),cloud3.concat(extra3),cloud4.concat(extra4),cloud5,cloud6.concat(extra6),cloud7,cloud8.concat(extra8),cloud9.concat(extra9),cloud10,cloud11,cloud12.concat(extra12),cloud13,cloud14.concat(extra14),cloud15.concat(extra15),cloud16,cloud17.concat(extra17),cloud18];
const panelSmooths=[smooth1,smooth2,smooth3,smooth4,null,smooth6,null,smooth8,smooth9,null,smooth11,smooth12,smooth13,smooth14,smooth15,smooth16,smooth17,smooth18];

const SVGNS='http://www.w3.org/2000/svg';
const root=document.getElementById('figure');
const COL_LEFT=[119,753,1387,2021,2654],ROW_TOP=[6,582,1158,1734];
const PW=476,PH=428.5,PAD=21.6,NK_INDEX=10;

function make(tag,parent,attrs){
  const n=document.createElementNS(SVGNS,tag);
  for(const k in attrs){n.setAttribute(k,attrs[k]);}
  parent.appendChild(n);
  return n;
}
function slug(s){return s.toLowerCase().replace(/[^a-z0-9]+/g,'-').replace(/-+$/,'');}
function splinePath(pts,start){
  let d=start?'M'+pts[0][0]+' '+pts[0][1]:'L'+pts[0][0]+' '+pts[0][1];
  for(let i=0;i<pts.length-1;i++){
    const p0=pts[Math.max(0,i-1)],p1=pts[i],p2=pts[i+1],p3=pts[Math.min(pts.length-1,i+2)];
    d+=' C'+(p1[0]+(p2[0]-p0[0])/6)+' '+(p1[1]+(p2[1]-p0[1])/6)+' '+(p2[0]-(p3[0]-p1[0])/6)+' '+(p2[1]-(p3[1]-p1[1])/6)+' '+p2[0]+' '+p2[1];
  }
  return d;
}
function gridStops(ticks,lo,hi){
  const step=ticks[1]-ticks[0],out=[];
  for(let i=-1;i<ticks.length;i++){
    const m=ticks[0]+step*(i+0.5);
    if(m>=Math.min(lo,hi)&&m<=Math.max(lo,hi)){out.push(m);}
  }
  return out;
}
const defs=make('defs',root,{});

panelTitles.forEach(function(title,i){
  const L=COL_LEFT[i%5],T=ROW_TOP[Math.floor(i/5)],R=L+PW,B=T+PH;
  const isNK=i===NK_INDEX;
  const yDomain=isNK?yDomainNK:yDomainStandard;
  const yTicks=isNK?yTicksNK:yTicksStandard;
  const xMax=xDomainMax[i];
  const sx=function(v){return L+PAD+v/xMax*(PW-2*PAD);};
  const sy=function(v){return T+(v-yDomain[0])/(yDomain[1]-yDomain[0])*PH;};
  const tickValues=xTickLabels[i].map(Number);
  const key=slug(title);

  const cellClip=make('clipPath',defs,{id:'cell'+i});
  make('rect',cellClip,{x:L-119,y:T-6,width:PW+141,height:570});
  const panelClip=make('clipPath',defs,{id:'panel'+i});
  make('rect',panelClip,{x:L,y:T,width:PW,height:PH});

  const g=make('g',root,{'clip-path':'url(#cell'+i+')'});
  
  

  const bg=make('rect',g,{x:L,y:T,width:PW,height:PH,fill:'#fff'});
  
  

  const grid=make('g',g,{});
  
  
  gridStops(tickValues,-0.05*xMax,xMax*1.05).forEach(function(v){
    make('line',grid,{x1:sx(v),x2:sx(v),y1:T,y2:B,stroke:'#F1F1F1','stroke-width':1.8});
  });
  gridStops(yTicks,yDomain[0],yDomain[1]).forEach(function(v){
    make('line',grid,{x1:L,x2:R,y1:sy(v),y2:sy(v),stroke:'#F1F1F1','stroke-width':1.8});
  });
  tickValues.forEach(function(v){
    make('line',grid,{x1:sx(v),x2:sx(v),y1:T,y2:B,stroke:'#EBEBEB','stroke-width':3.4});
  });
  yTicks.forEach(function(v){
    make('line',grid,{x1:L,x2:R,y1:sy(v),y2:sy(v),stroke:'#EBEBEB','stroke-width':3.4});
  });

  const pts=make('g',g,{fill:'#E31316'});
  
  
  function addPoint(x,y){
    const c=make('circle',pts,{cx:sx(x),cy:sy(y),r:10});
    
    
  }
  panelClouds[i].forEach(function(col){
    col[1].forEach(function(y){addPoint(col[0],y);});
  });
  const flat=panelOutliers[i];
  for(let k=0;k<flat.length;k+=2){addPoint(flat[k],flat[k+1]);}

  const smooth=panelSmooths[i];
  if(smooth){
    const upper=smooth.map(function(r){return [sx(r[0]),sy(r[3])];});
    const lower=smooth.map(function(r){return [sx(r[0]),sy(r[2])];}).reverse();
    const band=make('path',g,{d:splinePath(upper,true)+' '+splinePath(lower,false)+' Z',fill:'#999999','fill-opacity':0.35,stroke:'none'});
    
    
    const fit=make('path',g,{d:splinePath(smooth.map(function(r){return [sx(r[0]),sy(r[1])];}),true),fill:'none',stroke:'#149A3E','stroke-width':9,'stroke-linejoin':'round'});
    
    
  }

  const notes=make('g',g,{'clip-path':'url(#panel'+i+')','text-anchor':'middle','font-size':44,fill:'#FBB162'});
  
  
  const rText=make('text',notes,{x:L+PW/2-1,y:T+(isNK?25:41)});
  rText.textContent='R = '+rLabels[i];
  
  
  const pText=make('text',notes,{x:L+PW/2-1,y:T+(isNK?87:105)});
  pText.textContent='P value = '+pLabels[i];
  
  

  const frame=make('rect',g,{x:L,y:T,width:PW,height:PH,fill:'none',stroke:'#333333','stroke-width':3.8});
  
  

  const xAxis=make('g',g,{});
  
  
  xTickLabels[i].forEach(function(lab,k){
    const v=tickValues[k];
    make('line',xAxis,{x1:sx(v),x2:sx(v),y1:B,y2:B+11,stroke:'#333333','stroke-width':4.6});
    const t=make('text',xAxis,{x:sx(v),y:B+42,'text-anchor':'middle','font-size':35,fill:'#4D4D4D'});
    t.textContent=lab;
    
    
  });
  const xt=make('text',g,{x:L+PW/2-1,y:B+93,'text-anchor':'middle','font-size':44,fill:'#000'});
  xt.textContent=title;
  
  

  const yAxis=make('g',g,{});
  
  
  yTicks.forEach(function(v){
    make('line',yAxis,{x1:L-11,x2:L,y1:sy(v),y2:sy(v),stroke:'#333333','stroke-width':4.6});
    const t=make('text',yAxis,{x:L-19,y:sy(v)+12.4,'text-anchor':'end','font-size':35,fill:'#4D4D4D'});
    t.textContent=String(v).replace('-','\u2212');
    
    
  });
  const yt=make('text',g,{x:0,y:0,'text-anchor':'middle','font-size':44,fill:'#000',transform:'translate('+(L-82)+' '+(T+PH/2-1)+') rotate(-90)'});
  yt.textContent='RiskScore';
  
  
});
</script>
</body>
</html>
